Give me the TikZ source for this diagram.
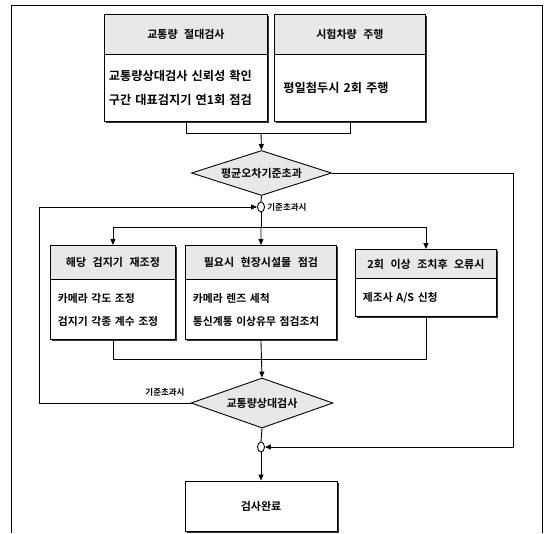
\documentclass[tikz,border=0pt]{standalone}
\usepackage{fontspec}
\newfontfamily\kr[WordSpace=2.6,BoldFont={Noto Sans CJK KR Bold}]{Noto Sans CJK KR}
\usetikzlibrary{shapes.geometric,arrows.meta,shadows}
\begin{document}
\begin{tikzpicture}[x=1pt,y=-1pt,
  font=\kr\bfseries\fontsize{11}{13}\selectfont,
  line width=0.9pt,
  shad/.style={drop shadow={shadow xshift=1.6pt,shadow yshift=-1.6pt,fill=black!80,opacity=1}},
  hdr/.style={draw,fill=black!9,shad,inner sep=0pt,anchor=north west},
  bdy/.style={draw,fill=white,shad,inner sep=0pt,anchor=north west,align=left,text width=#1},
  dia/.style={draw,diamond,fill=black!9,inner sep=0pt,shape aspect=3.1},
  junc/.style={draw,ellipse,fill=white,inner sep=0pt,minimum width=7pt,minimum height=10pt},
  arr/.style={-{Triangle[length=6pt,width=5pt]}},
  lbl/.style={font=\kr\bfseries\fontsize{8.5}{10}\selectfont,inner sep=0pt}
]
\useasboundingbox (0,0) rectangle (545,533);
% frame
\draw[line width=1pt] (11,533) -- (11,5) -- (542,5) -- (542,533);

% top boxes
\node[hdr,minimum width=163pt,minimum height=40pt] (tlh) at (104,14) {교통량 절대검사};
\node[bdy=158pt,minimum width=163pt,minimum height=67pt,font=\kr\bfseries\fontsize{12.2}{24}\selectfont] (tlb) at (104,54) {\hspace*{2pt}교통량상대검사 신뢰성 확인\\\hspace*{2pt}구간 대표검지기 연1회 점검};
\node[hdr,minimum width=151pt,minimum height=40pt] (trh) at (274,14) {시험차량 주행};
\node[bdy=145pt,minimum width=151pt,minimum height=67pt,font=\kr\bfseries\fontsize{12.2}{24}\selectfont] (trb) at (274,54) {\hspace*{6pt}평일첨두시 2회 주행};

\coordinate (m1) at (261,133);
\draw (tlb.south) |- (m1);
\draw (trb.south) |- (m1);

% diamond 1
\node[dia,minimum width=140pt,minimum height=45pt] (d1) at (261.5,173) {평균오차기준초과};
\draw[arr] (m1) -- (d1.north);

% junction 1
\node[junc] (j1) at (261,207) {};
\draw (d1.south) -- (j1.north);
\node[lbl,anchor=west] (l1) at (j1.east) {\hspace*{2pt}기준초과시};

\coordinate (m2) at (261,227);
\draw (j1.south) -- (m2);

% middle boxes
\node[hdr,minimum width=125pt,minimum height=34pt] (ah) at (50,245) {해당 검지기 재조정};
\node[bdy=120pt,minimum width=125pt,minimum height=60pt,font=\kr\bfseries\fontsize{10.8}{23}\selectfont] (ab) at (50,279) {\hspace*{5pt}카메라 각도 조정\\\hspace*{5pt}검지기 각종 계수 조정};
\node[hdr,minimum width=151pt,minimum height=34pt] (bh) at (185,245) {필요시 현장시설물 점검};
\node[bdy=146pt,minimum width=151pt,minimum height=60pt,font=\kr\bfseries\fontsize{10.8}{23}\selectfont] (bb) at (185,279) {\hspace*{5pt}카메라 렌즈 세척\\\hspace*{5pt}통신계통 이상유무 점검조치};
\node[hdr,minimum width=141pt,minimum height=29pt] (ch) at (355,249) {2회 이상 조치후 오류시};
\node[bdy=136pt,minimum width=141pt,minimum height=38pt,font=\kr\bfseries\fontsize{10.8}{23}\selectfont] (cb) at (355,278) {\hspace*{5pt}제조사 A/S 신청};

\draw[arr] (m2) -| (ah.north);
\draw[arr] (m2) -- (bh.north);
\draw[arr] (m2) -| (ch.north);

\coordinate (m3) at (261,359);
\draw (ab.south) |- (m3);
\draw (cb.south) |- (m3);

% diamond 2
\node[dia,minimum width=142pt,minimum height=50pt] (d2) at (262,403) {교통량상대검사};
\draw[arr] (bb.south) -- (d2.north);
\node[lbl,anchor=south east] (l2) at (185,397) {기준초과시};

% junction 2
\node[junc] (j2) at (261,447) {};
\draw (d2.south) -- (j2.north);

% final box
\node[draw,fill=white,shad,minimum width=152pt,minimum height=50pt,inner sep=0pt] (fin) at (261,506) {검사완료};
\draw[arr] (j2.south) -- (fin.north);

% loops
\coordinate (lpb) at (39,403);
\coordinate (lpt) at (39,207);
\draw[arr] (d2.west) -- (lpb) -- (lpt) -- (j1.west);
\coordinate (rpt) at (513,173);
\coordinate (rpb) at (513,447);
\draw[arr] (d1.east) -- (rpt) -- (rpb) -- (j2.east);
\end{tikzpicture}
\end{document}
